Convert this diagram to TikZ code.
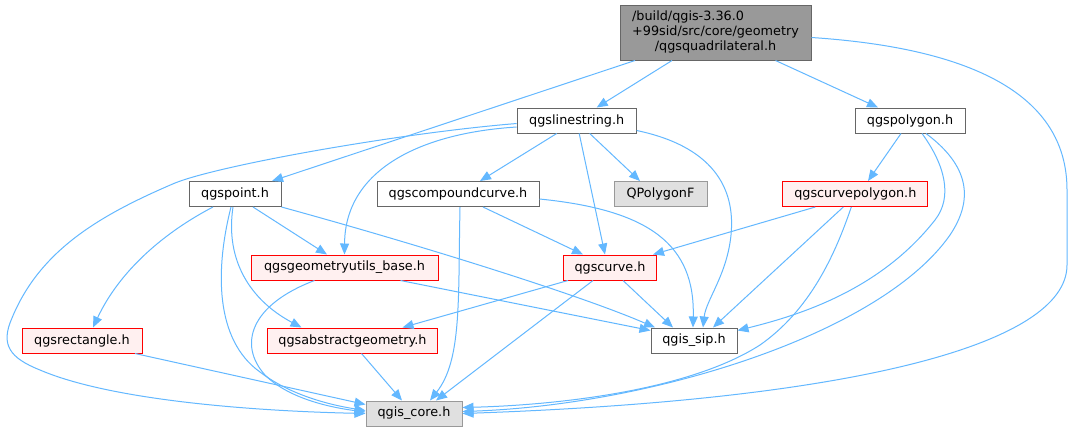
\documentclass[tikz,border=0pt]{standalone}
\usepackage{fontspec}
\setmainfont{DejaVu Sans}
\usetikzlibrary{arrows.meta}
\definecolor{edgeblue}{HTML}{63B8FF}
\definecolor{mainfill}{HTML}{999999}
\definecolor{darkborder}{HTML}{666666}
\definecolor{grayfill}{HTML}{E0E0E0}
\definecolor{grayborder}{HTML}{999999}
\definecolor{redfill}{HTML}{FFF0F0}
\tikzset{
  box/.style={rectangle, line width=1pt, minimum height=25pt, inner sep=0pt,
    font=\fontsize{12.8}{15}\selectfont, text=black},
  whitebox/.style={box, draw=darkborder, fill=white},
  graybox/.style={box, draw=grayborder, fill=grayfill},
  redbox/.style={box, draw=red, fill=redfill},
  mainbox/.style={box, draw=darkborder, fill=mainfill, minimum height=55pt},
  edge/.style={draw=edgeblue, line width=1pt, -{Triangle[length=11pt,width=9pt]}}
}
\begin{document}
\begin{tikzpicture}[x=1pt,y=-1pt]
\useasboundingbox[fill=white] (0,0) rectangle (1073,432);

\node[mainbox, minimum width=191pt] (main) at (715.5,32.5)
  {\begin{tabular}{@{}l@{}}/build/qgis-3.36.0\\+99sid/src/core/geometry\\\multicolumn{1}{@{}c@{}}{/qgsquadrilateral.h}\end{tabular}};
\node[whitebox, minimum width=119pt] (ls) at (576.7,120.5) {qgslinestring.h};
\node[whitebox, minimum width=110pt] (poly) at (910,120.5) {qgspolygon.h};
\node[whitebox, minimum width=92pt] (point) at (235,194) {qgspoint.h};
\node[whitebox, minimum width=162pt] (cc) at (458,194) {qgscompoundcurve.h};
\node[graybox, minimum width=93pt] (qp) at (660.5,194) {QPolygonF};
\node[redbox, minimum width=145pt] (cp) at (855.3,194) {qgscurvepolygon.h};
\node[redbox, minimum width=187pt] (gu) at (344.5,267.5) {qgsgeometryutils\_base.h};
\node[redbox, minimum width=93pt] (cv) at (610,267.5) {qgscurve.h};
\node[redbox, minimum width=120pt] (rect) at (82,340.5) {qgsrectangle.h};
\node[redbox, minimum width=170pt] (ag) at (352.5,340.5) {qgsabstractgeometry.h};
\node[whitebox, minimum width=86pt] (sip) at (694,340.5) {qgis\_sip.h};
\node[graybox, minimum width=96pt] (core) at (414,413.5) {qgis\_core.h};

% from main
\draw[edge] ([xshift=-80.5pt]main.south) -- ([xshift=37pt]point.north);
\draw[edge] ([xshift=-43.5pt]main.south) -- ([xshift=20pt]ls.north);
\draw[edge] ([xshift=60pt]main.south) -- ([xshift=-32pt]poly.north);
\draw[edge] ([yshift=-5pt]main.east) .. controls (1000,50) and (1067,110) .. (1067,190)
  -- (1067,265) .. controls (1067,345) and (850,400) .. (core.east);

% from qgslinestring
\draw[edge] ([yshift=-3pt]ls.west) .. controls (400,133) and (220,165) .. (175,183)
  .. controls (100,215) and (40,250) .. (12,318)
  .. controls (0,345) and (10,358) .. (40,370)
  .. controls (110,400) and (250,411) .. (core.west);
\draw[edge] ([yshift=-6.5pt]ls.west) .. controls (420,133) and (345,170) .. (gu.north);
\draw[edge] ([xshift=-20pt]ls.south) -- ([xshift=22pt]cc.north);
\draw[edge] ([xshift=13pt]ls.south) -- ([xshift=-20.5pt]qp.north);
\draw[edge] ([xshift=2.5pt]ls.south) -- ([xshift=-5pt]cv.north);
\draw[edge] ([yshift=-10pt]ls.east) .. controls (720,148) and (735,195) .. (731,235)
  .. controls (727,275) and (706,300) .. ([xshift=9pt]sip.north);

% from qgspolygon
\draw[edge] ([xshift=-9pt]poly.south) -- ([xshift=12.7pt]cp.north);
\draw[edge] ([xshift=12pt]poly.south) .. controls (945,165) and (953,197) .. (935,220)
  .. controls (880,290) and (800,315) .. ([yshift=10pt]sip.east);
\draw[edge] ([xshift=16pt]poly.south) .. controls (975,170) and (970,205) .. (950,235)
  .. controls (880,335) and (650,405) .. ([yshift=2pt]core.east);

% from qgspoint
\draw[edge] ([xshift=18pt]point.south) -- ([xshift=-17.5pt]gu.north);
\draw[edge] ([xshift=-22pt]point.south) .. controls (165,232) and (120,270) .. ([xshift=11pt]rect.north);
\draw[edge] ([xshift=-4pt]point.south) .. controls (215,270) and (215,340) .. (260,372)
  .. controls (290,395) and (330,405) .. ([yshift=3pt]core.west);
\draw[edge] ([xshift=-2pt]point.south) .. controls (225,260) and (250,300) .. ([xshift=-51pt]ag.north);
\draw[edge] (point.south east) .. controls (420,245) and (580,295) .. ([xshift=-39pt]sip.north);

% from qgscompoundcurve
\draw[edge] ([xshift=25pt]cc.south) -- ([xshift=-27pt]cv.north);
\draw[edge] ([xshift=2pt]cc.south) .. controls (458,300) and (462,360) .. ([xshift=16pt]core.north);
\draw[edge] ([yshift=-5pt]cc.east) .. controls (650,210) and (695,245) .. ([xshift=-1pt]sip.north);

% from qgscurvepolygon
\draw[edge] ([xshift=-40pt]cp.south) -- ([xshift=43pt]cv.north);
\draw[edge] ([xshift=-12pt]cp.south) -- ([xshift=19pt]sip.north);
\draw[edge] ([xshift=-4pt]cp.south) .. controls (835,255) and (810,310) .. (760,345)
  .. controls (690,390) and (560,405) .. ([yshift=6pt]core.east);

% from qgsgeometryutils_base
\draw[edge] ([xshift=-30pt]gu.south) .. controls (250,305) and (238,345) .. (265,375)
  .. controls (290,400) and (335,408) .. ([yshift=1.5pt]core.west);
\draw[edge] ([xshift=56pt]gu.south) -- ([yshift=10pt]sip.west);

% from qgscurve
\draw[edge] ([xshift=-42pt]cv.south) -- ([xshift=50pt]ag.north);
\draw[edge] ([xshift=13pt]cv.south) -- ([xshift=-21pt]sip.north);
\draw[edge] ([xshift=-17pt]cv.south) -- ([xshift=22pt]core.north);

% from qgsrectangle and qgsabstractgeometry
\draw[edge] ([xshift=53pt]rect.south) -- ([yshift=9pt]core.west);
\draw[edge] ([xshift=9pt]ag.south) -- ([xshift=-12pt]core.north);
\end{tikzpicture}
\end{document}
